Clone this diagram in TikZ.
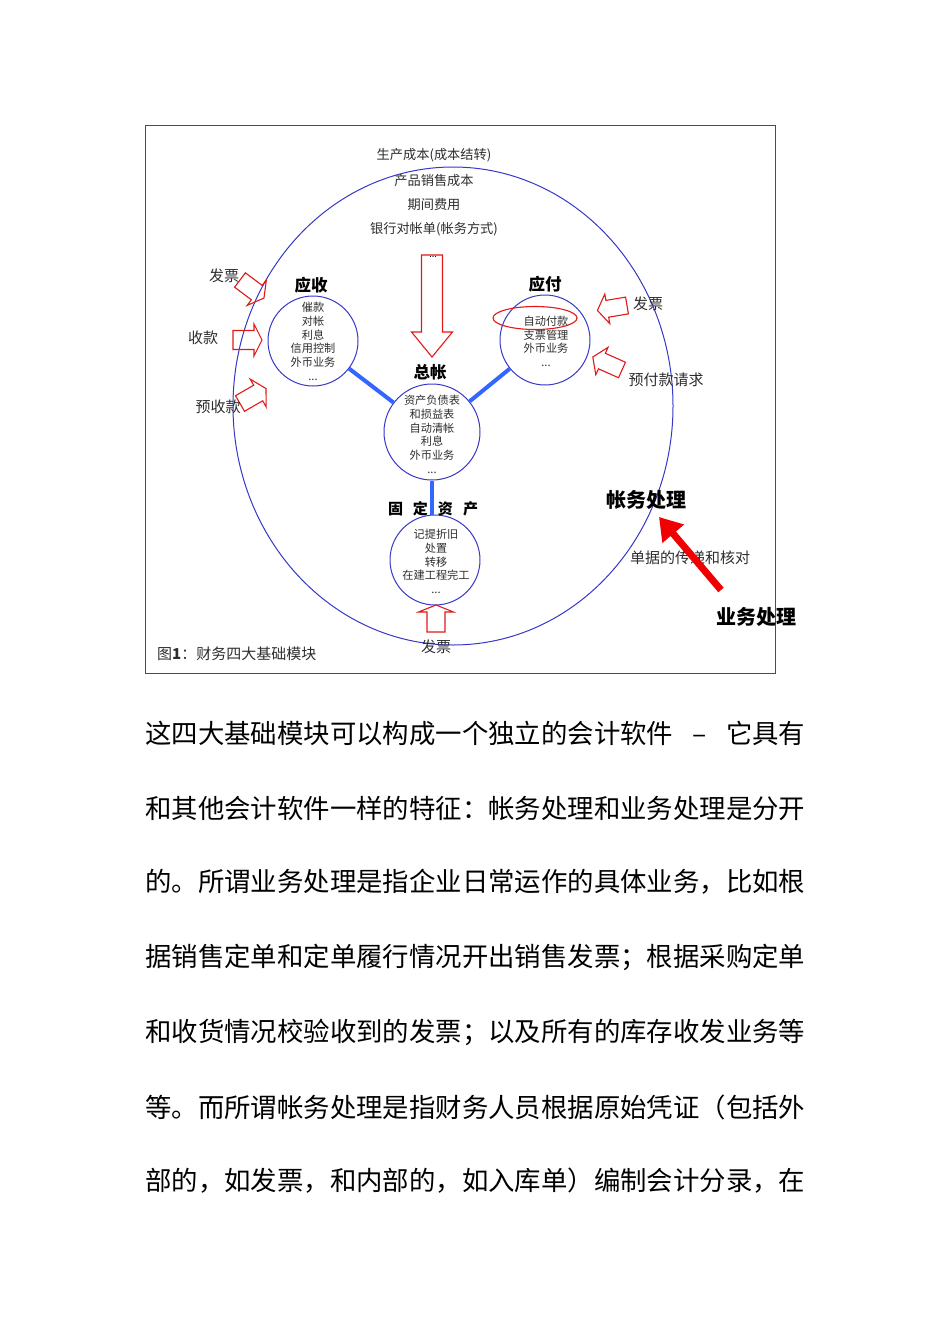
\documentclass[tikz,border=0pt]{standalone}
\usepackage{fontspec}
\setmainfont{Noto Sans CJK SC}
\usetikzlibrary{arrows.meta}
\definecolor{frameblue}{RGB}{60,60,210}
\definecolor{circblue}{RGB}{55,55,200}
\definecolor{linkblue}{RGB}{51,102,255}
\definecolor{arrred}{RGB}{225,25,25}
\definecolor{thickred}{RGB}{240,0,0}
\definecolor{txtgray}{RGB}{45,45,45}
\tikzset{
 modcirc/.style={circle, draw=circblue, line width=1pt, inner sep=0pt, minimum size=#1},
 modtext/.style={align=center, text=txtgray, font=\fontsize{11.2}{13.7}\selectfont, inner sep=0pt},
 modlabel/.style={font=\fontsize{16.5}{18}\selectfont\bfseries, inner sep=0pt},
 toptext/.style={text=txtgray, font=\fontsize{13.2}{16}\selectfont, inner sep=0pt},
 arrlabel/.style={text=txtgray, font=\fontsize{15}{18}\selectfont, inner sep=0pt},
 biglabel/.style={font=\fontsize{20}{22}\selectfont\bfseries, inner sep=0pt},
 bodytext/.style={font=\fontsize{26.4}{30}\selectfont, inner sep=0pt, anchor=west},
 link/.style={draw=linkblue, line width=4pt},
 hollowarrow/.style={draw=arrred, line width=1.1pt, line join=miter},
 redthick/.style={draw=thickred, line width=7pt, -{Triangle[length=22pt,width=27pt]}},
}
\newcommand\myblkarrow[7]{%
 \draw[hollowarrow, shift={(#1,#2)}, rotate=#3]
   (0,-#5) -- ({#4-#7},-#5) -- ({#4-#7},-#6) -- (#4,0) -- ({#4-#7},#6) -- ({#4-#7},#5) -- (0,#5) -- cycle;}
\begin{document}
\begin{tikzpicture}[x=1pt,y=-1pt]
\useasboundingbox (0,0) rectangle (950,1344);
% frame
\draw[frameblue, line width=0.9pt] (145,125) rectangle (775,673);
% big ellipse
\draw[circblue, line width=1pt] (453,406) ellipse [x radius=220, y radius=239];

% top texts
\node[toptext] (t1) at (434,155) {生产成本(成本结转)};
\node[toptext] (t2) at (434,181) {产品销售成本};
\node[toptext] (t3) at (434,205) {期间费用};
\node[toptext] (t4) at (434,229) {银行对帐单(帐务方式)};

% module circles
\node[modcirc=90pt] (ys) at (313,341) {};
\node[modcirc=90pt] (yf) at (545,340) {};
\node[modcirc=96pt] (zz) at (432,432) {};
\node[modcirc=90pt] (gd) at (435,560) {};

\node[modtext] (yst) at (313,341.5) {催款\\对帐\\利息\\信用控制\\外币业务\\...};
\node[modtext] (yft) at (546,341.5) {自动付款\\支票管理\\外币业务\\...};
\node[modtext] (zzt) at (432,434.5) {资产负债表\\和损益表\\自动清帐\\利息\\外币业务\\...};
\node[modtext] (gdt) at (436,561.5) {记提折旧\\处置\\转移\\在建工程完工\\...};

\node[modlabel] (ysl) at (311,285) {应收};
\node[modlabel] (yfl) at (545,284) {应付};
\node[modlabel] (zzl) at (430,372) {总帐};
\node[modlabel, font=\fontsize{15}{18}\selectfont\bfseries] (gdl) at (433,509) {固\hspace{10pt}定\hspace{10pt}资\hspace{10pt}产};

% red ellipse around 自动付款
\draw[arrred, line width=1.1pt] (535,318) ellipse [x radius=42, y radius=11.5];

% links
\draw[link] (ys) -- (zz);
\draw[link] (yf) -- (zz);
\draw[link] (zz.south) -- (zz.south |- gd.north);

% hollow arrows
\myblkarrow{432}{255}{-90}{102}{10.5}{20.5}{25}
\node[font=\fontsize{9}{10}\selectfont, inner sep=0pt] (dots) at (433,257) {...};
\myblkarrow{436}{632}{90}{27}{9}{17.5}{7}
\myblkarrow{233}{340}{0}{29}{9.5}{16}{8}
\myblkarrow{240}{280}{-37}{30}{9}{16}{9}
\myblkarrow{240}{403.5}{30}{30}{9}{16}{9}
\myblkarrow{627}{305.5}{189.5}{30}{8.5}{15}{10}
\myblkarrow{622}{370}{156}{32}{8.5}{15}{10}

% arrow labels
\node[arrlabel] (lfp) at (224,276) {发票};
\node[arrlabel] (lsk) at (203,338) {收款};
\node[arrlabel] (lysk) at (218,407) {预收款};
\node[arrlabel] (rfp) at (648,304) {发票};
\node[arrlabel] (ryf) at (666,380) {预付款请求};
\node[arrlabel] (bfp) at (436,647) {发票};

% accounting / business
\node[biglabel] (zw) at (646,500) {帐务处理};
\node[biglabel] (yw) at (756,617) {业务处理};
\node[arrlabel] (dj) at (690,558) {单据的传递和核对};
\coordinate (rt) at (721,590);
\coordinate (rh) at (659,517);
\draw[redthick] (rt) -- (rh);

% caption
\node[text=txtgray, font=\fontsize{15}{18}\selectfont, inner sep=0pt, anchor=west] (cap) at (157,654) {图\textbf{1}：财务四大基础模块};

% body text
\node[bodytext] (b1) at (145,733) {这四大基础模块可以构成一个独立的会计软件\makebox[52.8pt]{–}它具有};
\node[bodytext] (b2) at (145,808) {和其他会计软件一样的特征：帐务处理和业务处理是分开};
\node[bodytext] (b3) at (145,882) {的。所谓业务处理是指企业日常运作的具体业务，比如根};
\node[bodytext] (b4) at (145,957) {据销售定单和定单履行情况开出销售发票；根据采购定单};
\node[bodytext] (b5) at (145,1032) {和收货情况校验收到的发票；以及所有的库存收发业务等};
\node[bodytext] (b6) at (145,1107) {等。而所谓帐务处理是指财务人员根据原始凭证（包括外};
\node[bodytext] (b7) at (145,1181) {部的，如发票，和内部的，如入库单）编制会计分录，在};
\end{tikzpicture}
\end{document}
